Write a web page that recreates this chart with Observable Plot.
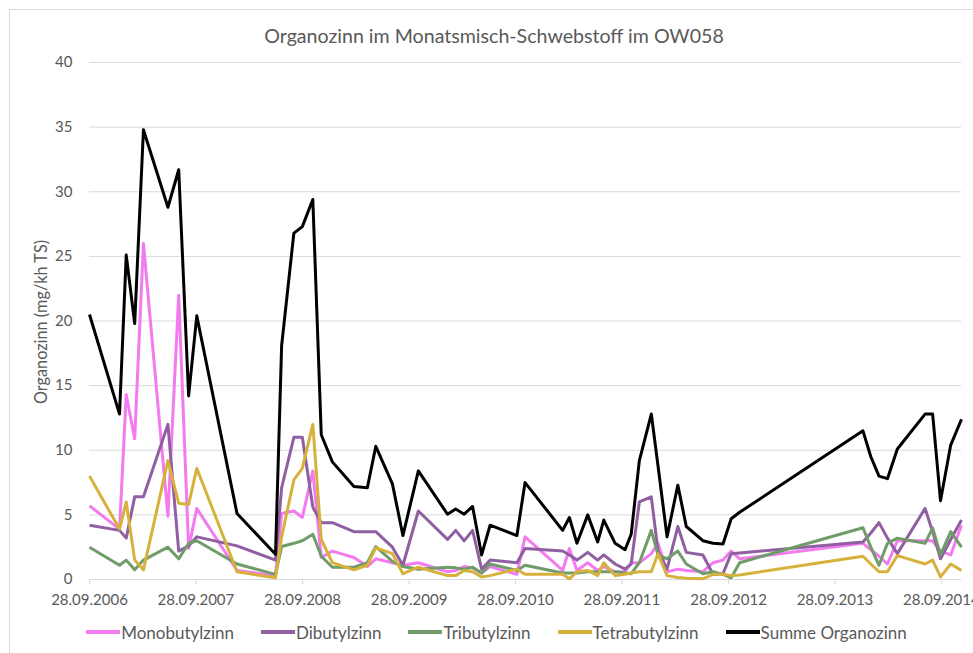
<!DOCTYPE html>
<html>
<head>
<meta charset="utf-8">
<script src="https://cdn.jsdelivr.net/npm/d3@7"></script>
<script src="https://cdn.jsdelivr.net/npm/@observablehq/plot@0.6"></script>
<style>
  html, body { margin: 0; padding: 0; background: #fff; }
  body { font-family: Lato, "Open Sans", sans-serif; color: #595959; }
  #wrap { position: relative; width: 973px; height: 653px; overflow: hidden; background: #fff; }
  #frame { position: absolute; left: 9px; top: 9px; width: 2000px; height: 2000px; border: 1px solid #d9d9d9; }
  #chart { position: absolute; left: 0; top: 0; }
  #title { position: absolute; top: 24px; left: 494px; transform: translateX(-50%); font-size: 19.6px; white-space: nowrap; color: #595959; }
  #ylabel { position: absolute; left: 40px; top: 322px; transform: translate(-50%, -50%) rotate(-90deg); font-size: 16.3px; white-space: nowrap; color: #595959; }
  #legend { position: absolute; top: 622px; left: 0; width: 993px; height: 20px; display: flex; justify-content: center; align-items: center; gap: 27px; font-size: 17px; color: #595959; }
  .item { display: flex; align-items: center; white-space: nowrap; }
  .sw { width: 34px; height: 4px; margin-right: 1px; }
</style>
</head>
<body>
<div id="wrap">
  <div id="frame"></div>
  <div id="chart"></div>
  <div id="title"></div>
  <div id="ylabel"></div>
  <div id="legend"></div>
</div>
<script>
// ---- data ----
const titleText = "Organozinn im Monatsmisch-Schwebstoff im OW058";
const yLabelText = "Organozinn (mg/kh TS)";

const dates = [
  "2006-09-28","2007-01-09","2007-02-01","2007-03-02","2007-04-01","2007-06-24","2007-07-31","2007-09-03","2007-10-01","2008-02-16",
  "2008-06-27","2008-07-18","2008-08-29","2008-09-27","2008-11-02","2008-12-01","2009-01-08","2009-03-23","2009-05-08","2009-06-06",
  "2009-08-02","2009-09-07","2009-10-30","2010-02-07","2010-03-07","2010-04-05","2010-05-04","2010-06-04","2010-07-03","2010-10-03",
  "2010-10-31","2011-03-09","2011-04-01","2011-04-27","2011-06-03","2011-07-07","2011-07-28","2011-09-05","2011-10-09","2011-10-30",
  "2011-11-27","2012-01-07","2012-01-30","2012-03-01","2012-04-07","2012-05-06","2012-07-02","2012-08-06","2012-09-09","2012-10-07",
  "2012-11-05","2014-01-02","2014-01-29","2014-02-26","2014-03-27","2014-04-30","2014-08-03","2014-08-29","2014-09-25","2014-10-30",
  "2014-12-06"
];

const monobutylzinn = [
  5.7, 3.9, 14.3, 10.9, 26.0, 4.9, 22.0, 2.4, 5.5, 0.7,
  0.3, 5.1, 5.3, 4.8, 8.4, 1.7, 2.2, 1.7, 1.0, 1.6,
  1.3, 1.1, 1.3, 0.6, 0.7, 1.0, 0.9, 0.5, 1.0, 0.4,
  3.3, 0.7, 2.4, 0.7, 1.3, 0.7, 1.0, 0.6, 0.6, 1.3,
  1.3, 2.0, 2.8, 0.6, 0.8, 0.7, 0.6, 1.3, 1.5, 2.2,
  1.6, 2.8, 2.3, 1.8, 1.2, 3.0, 3.0, 3.0, 2.2, 1.9,
  4.2
];
const dibutylzinn = [
  4.2, 3.8, 3.2, 6.4, 6.4, 12.0, 2.2, 2.6, 3.3, 2.6,
  1.5, 7.1, 11.0, 11.0, 5.6, 4.4, 4.4, 3.7, 3.7, 3.7,
  2.5, 1.1, 5.3, 3.1, 3.8, 3.0, 3.8, 0.8, 1.5, 1.3,
  2.4, 2.2, 1.9, 1.5, 2.1, 1.5, 1.9, 1.2, 0.8, 1.2,
  6.0, 6.4, 2.2, 0.8, 4.1, 2.1, 1.9, 0.4, 0.45, 2.0,
  2.05, 2.9, 3.6, 4.4, 3.2, 2.0, 5.5, 3.7, 1.6, 3.1,
  4.6
];
const tributylzinn = [
  2.5, 1.1, 1.5, 0.75, 1.5, 2.5, 1.6, 2.8, 3.0, 1.2,
  0.4, 2.55, 2.8, 3.0, 3.5, 1.8, 0.95, 0.95, 1.3, 2.55,
  1.4, 1.0, 0.8, 0.95, 0.9, 0.8, 0.95, 0.5, 1.2, 0.7,
  1.1, 0.5, 0.5, 0.5, 0.6, 0.6, 0.6, 0.6, 0.5, 0.45,
  1.3, 3.8, 1.9, 1.6, 2.2, 1.2, 0.45, 0.6, 0.4, 0.13,
  1.3, 4.0, 2.5, 1.1, 2.8, 3.2, 2.8, 4.0, 1.9, 3.7,
  2.5
];
const tetrabutylzinn = [
  8.0, 3.9, 6.0, 1.5, 0.75, 9.2, 5.9, 5.8, 8.6, 0.6,
  0.13, 3.3, 7.7, 8.6, 12.0, 3.1, 1.3, 0.75, 1.1, 2.45,
  2.0, 0.45, 0.95, 0.3, 0.3, 0.7, 0.6, 0.2, 0.3, 0.8,
  0.4, 0.4, 0.05, 0.6, 0.7, 0.3, 1.3, 0.3, 0.4, 0.5,
  0.6, 0.6, 2.0, 0.3, 0.15, 0.1, 0.05, 0.4, 0.4, 0.3,
  0.35, 1.8, 1.2, 0.6, 0.6, 1.85, 1.2, 1.5, 0.2, 1.2,
  0.7
];
const summeOrganozinn = [
  20.5, 12.8, 25.1, 19.8, 34.8, 28.8, 31.7, 14.2, 20.4, 5.1,
  1.95, 18.1, 26.8, 27.3, 29.4, 11.2, 9.1, 7.2, 7.1, 10.3,
  7.4, 3.4, 8.4, 5.05, 5.45, 5.05, 5.65, 1.9, 4.2, 3.4,
  7.5, 3.8, 4.8, 2.8, 5.0, 2.9, 4.6, 2.8, 2.3, 3.5,
  9.2, 12.8, 8.8, 3.3, 7.3, 4.1, 3.0, 2.8, 2.75, 4.7,
  5.2, 11.5, 9.5, 8.0, 7.8, 10.1, 12.8, 12.8, 6.1, 10.4,
  12.4
];

const seriesNames = ["Monobutylzinn", "Dibutylzinn", "Tributylzinn", "Tetrabutylzinn", "Summe Organozinn"];
const seriesColors = ["#f37bef", "#8f5fa1", "#6f9c68", "#d6b23d", "#000000"];

const xTickDates = ["2006-09-28","2007-09-28","2008-09-28","2009-09-28","2010-09-28","2011-09-28","2012-09-28","2013-09-28","2014-09-28"];
const xDomainDates = ["2006-09-28", "2014-12-06"];
const yTicks = [0, 5, 10, 15, 20, 25, 30, 35, 40];
const yDomain = [0, 40];

// ---- build table ----
const parse = d3.utcParse("%Y-%m-%d");
const seriesValues = [monobutylzinn, dibutylzinn, tributylzinn, tetrabutylzinn, summeOrganozinn];
const rows = [];
seriesNames.forEach((name, i) => {
  dates.forEach((d, j) => rows.push({ series: name, date: parse(d), value: seriesValues[i][j] }));
});

const chart = Plot.plot({
  width: 973,
  height: 653,
  marginTop: 62,
  marginBottom: 74,
  marginLeft: 89,
  marginRight: 12,
  style: { fontFamily: "Lato, 'Open Sans', sans-serif", fontSize: "15px", color: "#595959", background: "transparent", overflow: "visible" },
  x: { type: "utc", domain: xDomainDates.map(parse) },
  y: { domain: yDomain },
  color: { domain: seriesNames, range: seriesColors },
  marks: [
    Plot.gridY(yTicks, { stroke: "#d9d9d9", strokeOpacity: 1, strokeWidth: 1 }),
    Plot.axisY(yTicks, { tickSize: 0, tickPadding: 17, label: null, fill: "#595959", fontSize: 15 }),
    Plot.axisX(xTickDates.map(parse), { tickSize: 5, tickPadding: 10, tickFormat: d3.utcFormat("%d.%m.%Y"), label: null, stroke: "#d9d9d9", strokeOpacity: 1, fill: "#595959", fontSize: 15 }),
    Plot.lineY(rows, { x: "date", y: "value", z: "series", stroke: "series", strokeWidth: 3, strokeLinejoin: "round", strokeLinecap: "butt" })
  ]
});
document.getElementById("chart").appendChild(chart);

document.getElementById("title").textContent = titleText;
document.getElementById("ylabel").textContent = yLabelText;

const legend = document.getElementById("legend");
seriesNames.forEach((name, i) => {
  const item = document.createElement("div");
  item.className = "item";
  const sw = document.createElement("span");
  sw.className = "sw";
  sw.style.background = seriesColors[i];
  const lab = document.createElement("span");
  lab.textContent = name;
  item.appendChild(sw);
  item.appendChild(lab);
  legend.appendChild(item);
});
</script>
</body>
</html>
